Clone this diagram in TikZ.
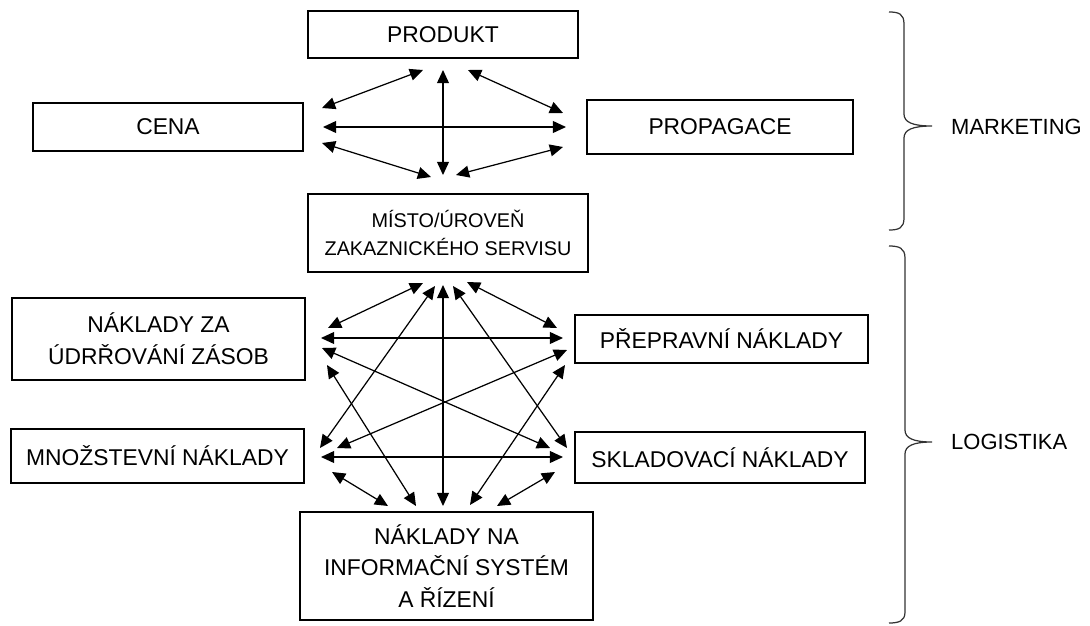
\documentclass[tikz,border=0pt]{standalone}
\usepackage{fontspec}
\setmainfont{Liberation Sans}
\usetikzlibrary{arrows.meta}

\begin{document}
\begin{tikzpicture}[x=0.02cm,y=-0.02cm,
    box/.style={draw,line width=1pt,inner sep=0pt,outer sep=0pt,align=center,
      font=\fontsize{13}{18}\selectfont},
    link/.style={line width=0.7pt,{Triangle[length=7.5pt,width=6.8pt]}-{Triangle[length=7.5pt,width=6.8pt]}},
    curly/.style={line width=0.7pt,black!80},
    side/.style={anchor=west,font=\fontsize{12.5}{15}\selectfont}]
  \useasboundingbox (0,0) rectangle (1090,626);
  % marketing part
  \node[box,minimum width=5.4cm,minimum height=0.94cm] (produkt) at (443,34.5) {PRODUKT};
  \node[box,minimum width=5.4cm,minimum height=0.96cm] (cena) at (168,127) {CENA};
  \node[box,minimum width=5.32cm,minimum height=1.08cm] (propagace) at (720,127) {PROPAGACE};
  \node[box,minimum width=5.6cm,minimum height=1.56cm,font=\fontsize{11.3}{15.5}\selectfont] (misto) at (448,233) {MÍSTO/ÚROVEŇ\\ZAKAZNICKÉHO SERVISU};
  % logistics part
  \node[box,minimum width=5.86cm,minimum height=1.64cm] (udrzovani) at (158.5,339) {NÁKLADY ZA\\ÚDRŘOVÁNÍ ZÁSOB};
  \node[box,minimum width=5.86cm,minimum height=0.96cm] (preprava) at (721.5,339) {PŘEPRAVNÍ NÁKLADY};
  \node[box,minimum width=5.86cm,minimum height=1.08cm] (mnozstvi) at (157.5,456) {MNOŽSTEVNÍ NÁKLADY};
  \node[box,minimum width=5.8cm,minimum height=1.02cm] (sklad) at (720,457.5) {SKLADOVACÍ NÁKLADY};
  \node[box,minimum width=5.86cm,minimum height=2.16cm] (infosys) at (446.5,566) {NÁKLADY NA\\INFORMAČNÍ SYSTÉM\\A ŘÍZENÍ};

  % arrow ends
  \coordinate (pr1) at (423,70);  \coordinate (pr2) at (443,70);  \coordinate (pr3) at (468,70);
  \coordinate (ce1) at (322,108); \coordinate (ce2) at (323,127); \coordinate (ce3) at (322,143);
  \coordinate (pg1) at (563,113); \coordinate (pg2) at (566,127); \coordinate (pg3) at (563,147);
  \coordinate (mi1) at (431,177); \coordinate (mi2) at (443,175); \coordinate (mi3) at (456,175);
  \coordinate (mb1) at (423,283); \coordinate (mb2) at (435,286); \coordinate (mb3) at (443,285);
  \coordinate (mb4) at (453,286); \coordinate (mb5) at (467,282);
  \coordinate (ud1) at (328,328); \coordinate (ud2) at (321,338); \coordinate (ud3) at (322,348); \coordinate (ud4) at (327,365);
  \coordinate (pp1) at (557,328); \coordinate (pp2) at (563,338); \coordinate (pp3) at (567,350); \coordinate (pp4) at (565,365);
  \coordinate (mn1) at (320,448); \coordinate (mn2) at (337,448); \coordinate (mn3) at (321,457); \coordinate (mn4) at (332,472);
  \coordinate (sk1) at (550,448); \coordinate (sk2) at (567,448); \coordinate (sk3) at (563,457); \coordinate (sk4) at (555,472);
  \coordinate (in1) at (388,506); \coordinate (in2) at (416,506); \coordinate (in3) at (443,506);
  \coordinate (in4) at (470,505); \coordinate (in5) at (497,506);

  \foreach \a/\b in {ce1/pr1,pr2/mi2,pr3/pg1,ce2/pg2,ce3/mi1,pg3/mi3}
    \draw[link] (\a) -- (\b);
  \foreach \a/\b in {mb1/ud1,mb2/mn1,mb3/in3,mb4/sk2,mb5/pp1,ud2/pp2,ud3/sk1,ud4/in2,
                     pp3/mn2,pp4/in4,mn3/sk3,mn4/in1,sk4/in5}
    \draw[link] (\a) -- (\b);

  % braces
  \draw[curly] (889,12) .. controls (899,12) and (904,14) .. (904,24) -- (904,114)
    .. controls (904,122) and (912,126) .. (932,126)
    .. controls (912,126) and (904,130) .. (904,138) -- (904,218)
    .. controls (904,228) and (899,230) .. (889,230);
  \draw[curly] (889,246) .. controls (899,246) and (905,248) .. (905,258) -- (905,430)
    .. controls (905,438) and (913,442) .. (932,442)
    .. controls (913,442) and (905,446) .. (905,454) -- (905,612)
    .. controls (905,621) and (899,623) .. (889,623);
  \node[side] (mk) at (945,127) {MARKETING};
  \node[side] (lg) at (945,442) {LOGISTIKA};
\end{tikzpicture}
\end{document}
